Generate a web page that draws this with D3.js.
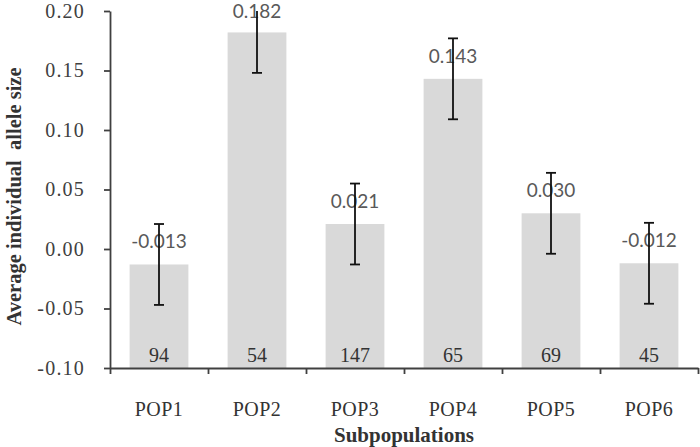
<!DOCTYPE html>
<html>
<head>
<meta charset="utf-8">
<script src="https://cdn.jsdelivr.net/npm/d3@7"></script>
<style>
  html, body { margin: 0; padding: 0; background: #fff; }
  svg { display: block; }
</style>
</head>
<body>
<svg id="chart" width="700" height="447"></svg>
<script>
const categories = ["POP1", "POP2", "POP3", "POP4", "POP5", "POP6"];
const values = [-0.013, 0.182, 0.021, 0.143, 0.030, -0.012];
const errors = [0.034, 0.034, 0.034, 0.034, 0.034, 0.034];
const counts = [94, 54, 147, 65, 69, 45];
const yTicks = [-0.10, -0.05, 0.00, 0.05, 0.10, 0.15, 0.20];
const yTitle = "Average individual\u00A0\u00A0allele size";
const xTitle = "Subpopulations";

const svg = d3.select("#chart");
const mLeft = 110, mRight = 698, mTop = 11, mBottom = 368;

const y = d3.scaleLinear().domain([-0.10, 0.20]).range([mBottom, mTop]);
const x = d3.scaleBand().domain(categories).range([mLeft, mRight])
  .paddingInner(0.4).paddingOuter(0.2);
const xEdge = d3.scaleLinear().domain([0, categories.length]).range([mLeft, mRight]);

const serif = "'Liberation Serif', 'Times New Roman', serif";
const sans = "Lato, 'Open Sans', sans-serif";

const data = categories.map((c, i) => ({ c, v: values[i], e: errors[i], n: counts[i] }));

// bars (from axis bottom to value)
svg.append("g").selectAll("rect").data(data).join("rect")
  .attr("x", d => x(d.c))
  .attr("width", x.bandwidth())
  .attr("y", d => y(d.v))
  .attr("height", d => y(y.domain()[0]) - y(d.v))
  .attr("fill", "#d9d9d9");

// counts inside bars
svg.append("g").selectAll("text").data(data).join("text")
  .attr("x", d => x(d.c) + x.bandwidth() / 2)
  .attr("y", mBottom - 6)
  .attr("text-anchor", "middle")
  .attr("font-family", serif)
  .attr("font-size", 20)
  .attr("fill", "#333")
  .text(d => d.n);

// value labels
svg.append("g").selectAll("text").data(data).join("text")
  .attr("x", d => x(d.c) + x.bandwidth() / 2)
  .attr("y", d => Math.max(y(d.v) - 16, 18))
  .attr("text-anchor", "middle")
  .attr("font-family", sans)
  .attr("font-size", 19)
  .attr("fill", "#595959")
  .text(d => d.v.toFixed(3));

// error bars (clipped to plot area)
const eb = svg.append("g").attr("stroke", "#111").attr("stroke-width", 1.8);
data.forEach(d => {
  const cx = x(d.c) + x.bandwidth() / 2;
  const hi = d.v + d.e, lo = d.v - d.e;
  const hiC = Math.min(hi, y.domain()[1]);
  eb.append("line").attr("x1", cx).attr("x2", cx).attr("y1", y(hiC)).attr("y2", y(lo));
  if (hi <= y.domain()[1]) {
    eb.append("line").attr("x1", cx - 5).attr("x2", cx + 5).attr("y1", y(hi)).attr("y2", y(hi));
  }
  eb.append("line").attr("x1", cx - 5).attr("x2", cx + 5).attr("y1", y(lo)).attr("y2", y(lo));
});

// y axis
const yAxis = svg.append("g")
  .attr("transform", `translate(${mLeft},0)`)
  .call(d3.axisLeft(y).tickValues(yTicks).tickSize(6).tickSizeOuter(0)
    .tickPadding(19).tickFormat(d => d.toFixed(2)));
yAxis.select(".domain").attr("stroke", "#404040").attr("stroke-width", 1.8);
yAxis.selectAll(".tick line").attr("stroke", "#404040").attr("stroke-width", 1.8);
yAxis.selectAll("text")
  .attr("font-family", serif).attr("font-size", 20)
  .attr("letter-spacing", "1.2px")
  .attr("fill", "#404040");

// x axis: boundary ticks
const xAxisEdges = svg.append("g")
  .attr("transform", `translate(0,${mBottom})`)
  .call(d3.axisBottom(xEdge).tickValues(d3.range(categories.length + 1))
    .tickSize(6).tickSizeOuter(0).tickFormat(""));
xAxisEdges.select(".domain").attr("stroke", "#404040").attr("stroke-width", 1.8);
xAxisEdges.selectAll(".tick line").attr("stroke", "#404040").attr("stroke-width", 1.8);

// x axis labels
const xAxisLabels = svg.append("g")
  .attr("transform", `translate(0,${mBottom})`)
  .call(d3.axisBottom(x).tickSize(0));
xAxisLabels.select(".domain").remove();
xAxisLabels.selectAll("text")
  .attr("y", 48).attr("dy", 0)
  .attr("font-family", serif).attr("font-size", 20)
  .attr("letter-spacing", "0.5px")
  .attr("fill", "#333");

// titles
svg.append("text")
  .attr("transform", `translate(21,${(mTop + mBottom) / 2 + 7}) rotate(-90)`)
  .attr("text-anchor", "middle")
  .attr("font-family", serif).attr("font-size", 20.5).attr("font-weight", "bold")
  .attr("fill", "#333")
  .text(yTitle);

svg.append("text")
  .attr("x", (mLeft + mRight) / 2)
  .attr("y", 442)
  .attr("text-anchor", "middle")
  .attr("font-family", serif).attr("font-size", 21).attr("font-weight", "bold")
  .attr("fill", "#333")
  .text(xTitle);
</script>
</body>
</html>
